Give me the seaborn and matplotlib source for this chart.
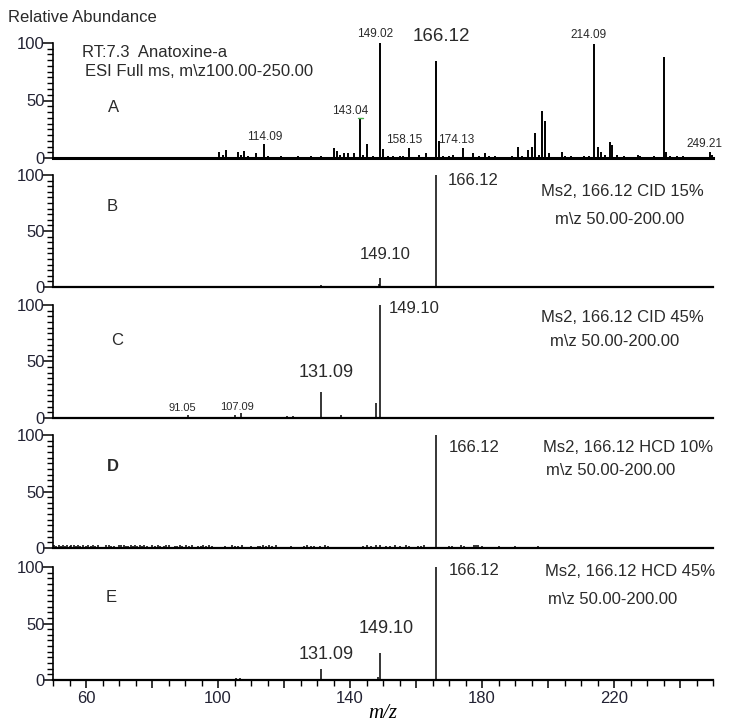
import matplotlib
matplotlib.use("Agg")
import matplotlib.pyplot as plt
import seaborn as sns
from matplotlib.ticker import MultipleLocator, FixedLocator, NullLocator, FuncFormatter

# panel A: full scan
a_mz = [100.2, 101.4, 102.3, 106.2, 107.1, 108.0, 109.0, 111.4, 114.09, 115.2, 117.0, 119.1,
        121.0, 124.1, 126.0, 128.2, 130.0, 131.1, 133.0, 135.1, 136.0, 137.0, 138.1, 139.3,
        141.2, 143.04, 144.0, 145.1, 147.0, 149.02, 150.0, 151.5, 153.0, 155.1, 156.2, 157.9,
        159.0, 161.0, 163.0, 166.12, 167.1, 168.2, 170.0, 171.3, 172.0, 174.13, 175.0, 177.4,
        179.2, 181.0, 182.0, 184.0, 186.0, 189.0, 191.0, 192.2, 193.8, 195.0, 196.2, 197.3,
        198.3, 199.0, 200.2, 204.1, 205.2, 207.0, 209.0, 211.0, 212.5, 214.09, 215.0, 216.0,
        217.2, 218.7, 219.3, 221.0, 223.0, 225.0, 227.2, 228.0, 232.0, 235.1, 235.7, 237.0,
        239.0, 241.0, 244.0, 246.0, 249.1, 249.7]
a_int = [5, 3, 7, 5, 3, 6, 2, 4, 12, 2, 1, 1.5,
         1, 2, 1, 1.5, 1, 1.5, 1, 9, 6, 3, 4, 4,
         4, 34, 3, 12, 2, 100, 8, 2, 1.5, 1.5, 2, 9,
         1, 3, 4, 84, 15, 2, 2, 3, 1, 9, 1, 4,
         2, 4, 1.5, 1.5, 1, 2, 10, 2, 7, 10, 22, 3,
         41, 32, 4, 5, 2, 1.5, 1, 1.5, 2, 99, 10, 5,
         3, 14, 11, 3, 2, 1, 3, 2, 1.5, 88, 5, 2,
         1.5, 2, 1, 1, 5, 3]

# panel B: CID 15%
b_mz = [131.2, 148.7, 149.10, 166.12]
b_int = [1.5, 2.5, 8, 100]

# panel C: CID 45%
c_mz = [91.05, 105.3, 107.09, 120.8, 122.6, 131.09, 137.2, 147.9, 149.10]
c_int = [3, 2.5, 4.5, 2, 2, 23, 2.5, 13, 100]

# panel D: HCD 10% (baseline noise + precursor)
d_mz = [50.4, 51.0, 51.7, 52.3, 53.0, 53.6, 54.3, 55.0, 55.6, 56.3, 57.0, 57.6, 58.3, 59.0,
        60.0, 60.7, 61.4, 62.1, 62.8, 63.5, 66.2, 67.0, 67.7, 68.4, 70.0, 70.7, 71.4, 72.1,
        72.8, 73.5, 74.2, 74.9, 75.6, 76.3, 77.0, 77.7, 78.4, 80.0, 81.0, 81.7, 82.4, 83.5,
        84.2, 85.3, 87.0, 87.7, 88.4, 89.1, 90.2, 91.3, 92.0, 94.0, 94.7, 95.4, 96.5, 97.2,
        98.3, 102.0, 104.2, 105.0, 106.1, 107.3, 110.0, 112.0, 112.6, 113.6, 114.5, 115.4,
        116.5, 117.6, 122.0, 126.1, 127.0, 128.2, 129.1, 131.0, 132.3, 133.4, 144.0, 145.0,
        146.5, 148.0, 149.1, 151.0, 152.0, 153.5, 155.0, 157.0, 158.0, 160.5, 161.5, 162.5,
        166.12, 170.0, 171.0, 173.7, 174.6, 177.5, 178.1, 178.7, 180.0, 185.0, 190.0, 197.0]
d_int = [2.5, 2.0, 2.8, 2.2, 2.5, 2.0, 2.6, 2.2, 2.4, 2.8, 2.0, 2.5, 2.2, 2.6,
         2.2, 2.5, 2.0, 2.6, 2.2, 2.4, 2.3, 2.6, 2.2, 2.0, 2.5, 2.3, 2.8, 2.0,
         2.2, 2.4, 2.0, 2.5, 2.2, 2.8, 2.0, 2.3, 2.2, 2.5, 2.0, 2.6, 2.2, 2.0,
         2.4, 2.3, 2.2, 2.0, 2.5, 2.0, 2.3, 2.0, 2.5, 2.2, 2.0, 2.3, 2.0, 2.4,
         2.0, 2.2, 2.5, 2.0, 2.2, 2.5, 2.0, 2.2, 2.0, 2.5, 2.0, 2.3,
         2.0, 2.4, 2.0, 2.2, 2.5, 2.0, 2.2, 2.0, 2.6, 2.0, 2.2, 2.5,
         2.0, 2.3, 2.5, 2.0, 2.2, 2.5, 2.0, 2.3, 2.0, 2.2, 2.0, 2.4,
         100, 2.2, 2.0, 2.3, 2.0, 2.8, 3.0, 2.6, 2.0, 2.0, 2.0, 2.0]

# panel E: HCD 45%
e_mz = [105.5, 106.8, 131.09, 148.6, 149.10, 166.12]
e_int = [1.5, 1.5, 10, 3, 24, 100]

sns.set_theme(style="ticks")
plt.rcParams['font.family'] = ['Liberation Sans', 'DejaVu Sans']
txt = '#2a2a2a'

fig = plt.figure(figsize=(7.31, 7.25), dpi=100)
W, H = 731, 725
panels = [(43, 158), (175, 287), (305, 418), (435, 548), (567, 680)]
axes = []
for top, zero in panels:
    ax = fig.add_axes([53 / W, 1 - zero / H, 660 / W, (zero - top) / H])
    axes.append(ax)

series = [(a_mz, a_int, 1.4), (b_mz, b_int, 1.1), (c_mz, c_int, 1.1),
          (d_mz, d_int, 1.1), (e_mz, e_int, 1.1)]

for i, (ax, (mz, inten, lw)) in enumerate(zip(axes, series)):
    ax.vlines(mz, 0, inten, color='black', lw=lw, clip_on=False)
    ax.set_xlim(50, 250)
    ax.set_ylim(0, 100)
    sns.despine(ax=ax)
    ax.spines['left'].set_linewidth(1.2)
    ax.spines['bottom'].set_linewidth(2.2 if i == 0 else 1.6)
    ax.spines['left'].set_color('black')
    ax.spines['bottom'].set_color('black')
    ax.yaxis.set_major_locator(FixedLocator([0, 50, 100]))
    ax.yaxis.set_minor_locator(MultipleLocator(5))
    ax.tick_params(axis='y', which='major', length=7, width=1.1, color='black',
                   labelsize=12, pad=-1, labelcolor='#222233')
    ax.tick_params(axis='y', which='minor', length=4.5, width=1.0, color='black')
    if i < 4:
        ax.xaxis.set_major_locator(NullLocator())
        ax.xaxis.set_minor_locator(NullLocator())
    else:
        ax.xaxis.set_major_locator(MultipleLocator(20))
        ax.xaxis.set_minor_locator(MultipleLocator(5))
        ax.xaxis.set_major_formatter(FuncFormatter(
            lambda v, p: f"{v:.0f}" if (v - 60) % 40 == 0 else ""))
        ax.tick_params(axis='x', which='major', length=6, width=1.1, color='black',
                       labelsize=12, pad=2, labelcolor='#222233')
        ax.tick_params(axis='x', which='minor', length=4.5, width=1.0, color='black')
    ax.set_facecolor('none')

def put(ax, x, y, s, size=12, ha='left', **kw):
    ax.text(x, y, s, fontsize=size, ha=ha, va='center', color=txt, clip_on=False, **kw)

axA, axB, axC, axD, axE = axes

# panel A texts
put(axA, 58.8, 92, "RT:7.3  Anatoxine-a")
put(axA, 59.7, 75, "ESI Full ms, m\\z100.00-250.00")
put(axA, 68.2, 44, "A", ha='center')
put(axA, 147.5, 108, "149.02", size=8.5, ha='center')
put(axA, 167.6, 106, "166.12", size=13.5, ha='center')
put(axA, 212.3, 107, "214.09", size=8.5, ha='center')
put(axA, 140.0, 41, "143.04", size=8.5, ha='center')
put(axA, 114.09, 18, "114.09", size=8.5, ha='center')
put(axA, 156.4, 16, "158.15", size=8.5, ha='center')
put(axA, 172.2, 16, "174.13", size=8.5, ha='center')
put(axA, 247.3, 12, "249.21", size=8.5, ha='center')
axA.plot([142.3, 143.8], [35, 35], color='#4caf50', lw=1, clip_on=False)

# panel B texts
put(axB, 68.0, 72, "B", ha='center')
put(axB, 169.5, 95, "166.12")
put(axB, 150.6, 29, "149.10", ha='center')
put(axB, 198.0, 85, "Ms2, 166.12 CID 15%")
put(axB, 202.0, 60, "m\\z 50.00-200.00")

# panel C texts
put(axC, 69.5, 69, "C", ha='center')
put(axC, 151.8, 97, "149.10")
put(axC, 132.7, 40, "131.09", size=13, ha='center')
put(axC, 89.2, 9, "91.05", size=8, ha='center')
put(axC, 105.6, 10, "107.09", size=8, ha='center')
put(axC, 198.0, 89, "Ms2, 166.12 CID 45%")
put(axC, 200.5, 68, "m\\z 50.00-200.00")

# panel D texts
put(axD, 68.2, 72, "D", ha='center', fontweight='bold')
put(axD, 170.0, 89, "166.12")
put(axD, 198.6, 89, "Ms2, 166.12 HCD 10%")
put(axD, 199.5, 69, "m\\z 50.00-200.00")

# panel E texts
put(axE, 67.6, 73, "E", ha='center')
put(axE, 169.8, 97, "166.12")
put(axE, 151.0, 46, "149.10", size=13, ha='center')
put(axE, 132.7, 23, "131.09", size=13, ha='center')
put(axE, 199.0, 96, "Ms2, 166.12 HCD 45%")
put(axE, 200.0, 71, "m\\z 50.00-200.00")

fig.text(8 / W, 1 - 18 / H, "Relative Abundance", fontsize=12, color=txt, ha='left', va='center')
fig.text(383 / W, 1 - 713 / H, "m/z", fontsize=15, ha='center', va='center', color='black',
         family=['Liberation Serif', 'DejaVu Serif'], style='italic')

fig.savefig("out.png", dpi=100, facecolor='white')
